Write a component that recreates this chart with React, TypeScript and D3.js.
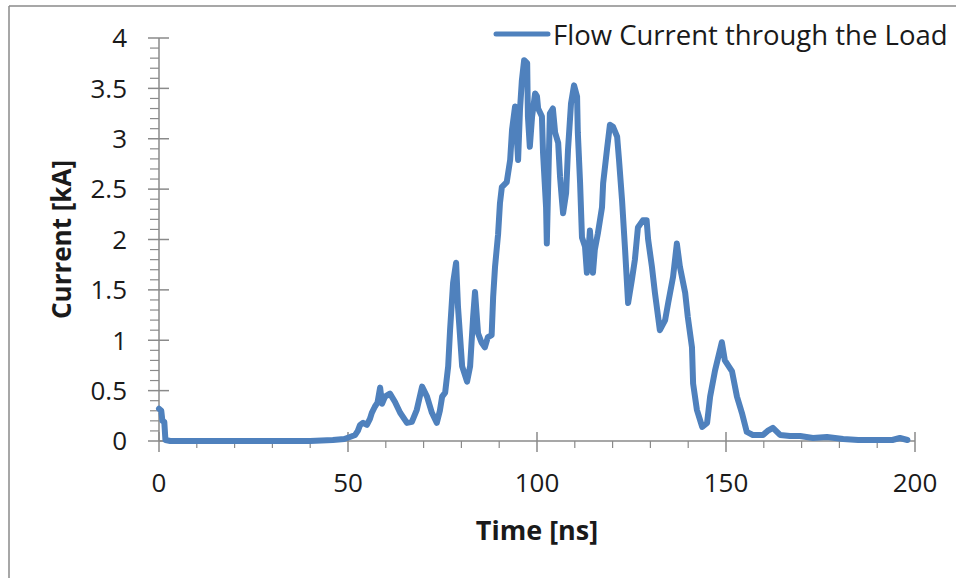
import React from 'react'
import * as d3 from 'd3'

// flow current through the load (time in ns, current in kA)
const times = [
  0, 0.6, 0.9, 1.4, 1.7, 3, 20, 40, 46, 49, 50.5, 51.9, 52.6, 53.2, 54, 55, 55.8, 56.3, 57.1, 57.8,
  58.5, 59, 59.8, 61.1, 62.4, 63.8, 65.6, 66.9, 68.2, 69.6, 70.9, 72.2, 73.5, 74.3, 74.9, 75.7,
  76.5, 77, 77.8, 78.6, 79.1, 80.2, 81.5, 82.3, 83.1, 83.6, 84.4, 85.3, 86.2, 87, 88, 88.4, 88.9,
  89.7, 90.2, 90.7, 92, 92.9, 93.4, 94.2, 95, 95.5, 96, 96.6, 97.4, 97.6, 98.1, 98.7, 99.5, 100,
  100.3, 101.3, 101.6, 102.4, 102.6, 103.4, 104.2, 104.8, 105.6, 106.1, 106.6, 106.9, 107.7, 108.2,
  109, 109.8, 110.6, 110.8, 111.4, 111.9, 112.7, 113.2, 114, 114.8, 115.3, 116.1, 117.2, 117.5,
  118.5, 119.3, 120.1, 121.2, 121.7, 122.5, 123.3, 124.1, 125.1, 125.9, 126.7, 128, 129, 129.4,
  130.4, 131.2, 132.5, 133.9, 134.7, 136, 137, 137.8, 139.2, 139.9, 141, 141.3, 142.3, 143.7, 145,
  145.8, 147.1, 148.9, 149.7, 151.6, 152.9, 154.2, 155.5, 157.1, 159.8, 161, 162.4, 164.3, 166.9,
  169.6, 173, 176.7, 181, 185, 194, 196, 198,
]
const current = [
  0.32, 0.3, 0.2, 0.19, 0.01, 0, 0, 0, 0.01, 0.02, 0.04, 0.06, 0.1, 0.16, 0.18, 0.16, 0.22, 0.28, 0.34, 0.38,
  0.53, 0.37, 0.44, 0.47, 0.39, 0.28, 0.18, 0.19, 0.31, 0.54, 0.44, 0.28, 0.18, 0.3, 0.44, 0.48,
  0.74, 1.1, 1.57, 1.77, 1.33, 0.74, 0.59, 0.74, 1.23, 1.48, 1.07, 0.98, 0.93, 1.03, 1.05, 1.43, 1.73,
  2.05, 2.36, 2.52, 2.57, 2.79, 3.09, 3.32, 2.79, 3.29, 3.58, 3.78, 3.75, 3.22, 2.92, 3.22, 3.45, 3.42,
  3.3, 3.22, 2.86, 2.32, 1.96, 3.25, 3.3, 3.06, 2.96, 2.62, 2.39, 2.26, 2.46, 2.89,
  3.35, 3.53, 3.42, 3.06, 2.56, 2.02, 1.93, 1.67, 2.09, 1.67, 1.9, 2.06, 2.32, 2.56,
  2.89, 3.14, 3.12, 3.02, 2.79, 2.39, 1.9, 1.37, 1.6, 1.8, 2.12, 2.19, 2.19, 2.0,
  1.73, 1.47, 1.1, 1.2, 1.37, 1.63, 1.96, 1.73, 1.47, 1.23, 0.93, 0.57, 0.31, 0.14, 0.18,
  0.44, 0.7, 0.98, 0.8, 0.69, 0.44, 0.28, 0.09, 0.06, 0.06, 0.1, 0.13, 0.06, 0.05,
  0.05, 0.03, 0.04, 0.02, 0.01, 0.01, 0.03, 0.01,
]
const xTicks = [0, 50, 100, 150, 200]
const yTicks = [0, 0.5, 1, 1.5, 2, 2.5, 3, 3.5, 4]
const seriesName = 'Flow Current through the Load'

const W = 956
const H = 578
const font = '"Open Sans", "Noto Sans", sans-serif'
const axisColor = '#8a8a8a'
const lineColor = '#4f81bd'
const textColor = '#1a1a1a'

export default function App() {
  const x = d3.scaleLinear().domain([0, 200]).range([159, 915])
  const y = d3.scaleLinear().domain([0, 4]).range([441, 38])

  const pts: [number, number][] = times.map((t, i) => [t, current[i]])
  const line = d3.line<[number, number]>()
    .x(d => x(d[0]))
    .y(d => y(d[1]))

  const xMinor = d3.range(0, 201, 10).filter(v => v % 50 !== 0)
  const yMinor = d3.range(0, 41, 1).map(v => v / 10).filter(v => Math.round(v * 10) % 5 !== 0)

  return (
    <svg width={W} height={H} style={{position: 'absolute', left: 0, top: 0, background: '#fff'}}>
      {/* chart area frame */}
      <line x1={9} y1={6} x2={9} y2={H} stroke={axisColor} strokeWidth={1.5} />
      <line x1={9} y1={6} x2={W} y2={6} stroke={axisColor} strokeWidth={1.5} />

      {/* y axis */}
      <line x1={x(0)} y1={y(0)} x2={x(0)} y2={y(4)} stroke={axisColor} strokeWidth={1.5} />
      {yMinor.map(v => (
        <line key={'ym' + v} x1={x(0) - 9} x2={x(0)} y1={y(v)} y2={y(v)} stroke={axisColor} strokeWidth={1.2} />
      ))}
      {yTicks.map(v => (
        <g key={'y' + v}>
          <line x1={x(0) - 11} x2={x(0) + 10} y1={y(v)} y2={y(v)} stroke={axisColor} strokeWidth={1.5} />
          <text x={127} y={y(v)} dy="0.36em" textAnchor="end" fontFamily={font} fontSize={26} fill={textColor}>
            {String(v)}
          </text>
        </g>
      ))}

      {/* x axis */}
      <line x1={x(0)} y1={y(0)} x2={x(200)} y2={y(0)} stroke={axisColor} strokeWidth={1.5} />
      {xMinor.map(v => (
        <line key={'xm' + v} x1={x(v)} x2={x(v)} y1={y(0)} y2={y(0) + 7} stroke={axisColor} strokeWidth={1.2} />
      ))}
      {xTicks.map(v => (
        <g key={'x' + v}>
          <line x1={x(v)} x2={x(v)} y1={y(0) - 9} y2={y(0) + 11} stroke={axisColor} strokeWidth={1.5} />
          <text x={x(v)} y={492} textAnchor="middle" fontFamily={font} fontSize={26} fill={textColor}>
            {String(v)}
          </text>
        </g>
      ))}

      {/* axis titles */}
      <text x={(x(0) + x(200)) / 2} y={540} textAnchor="middle" fontFamily={font} fontWeight="bold" fontSize={27} fill={textColor}>
        Time [ns]
      </text>
      <text transform={`translate(71, ${(y(0) + y(4)) / 2}) rotate(-90)`} textAnchor="middle" fontFamily={font} fontWeight="bold" fontSize={26} fill={textColor}>
        Current [kA]
      </text>

      {/* series */}
      <path d={line(pts) || ''} fill="none" stroke={lineColor} strokeWidth={6} strokeLinejoin="round" strokeLinecap="round" />

      {/* legend */}
      <line x1={496} x2={548} y1={34} y2={34} stroke={lineColor} strokeWidth={5} strokeLinecap="round" />
      <text x={553} y={45} fontFamily={font} fontSize={27.5} fill={textColor}>{seriesName}</text>
    </svg>
  )
}
